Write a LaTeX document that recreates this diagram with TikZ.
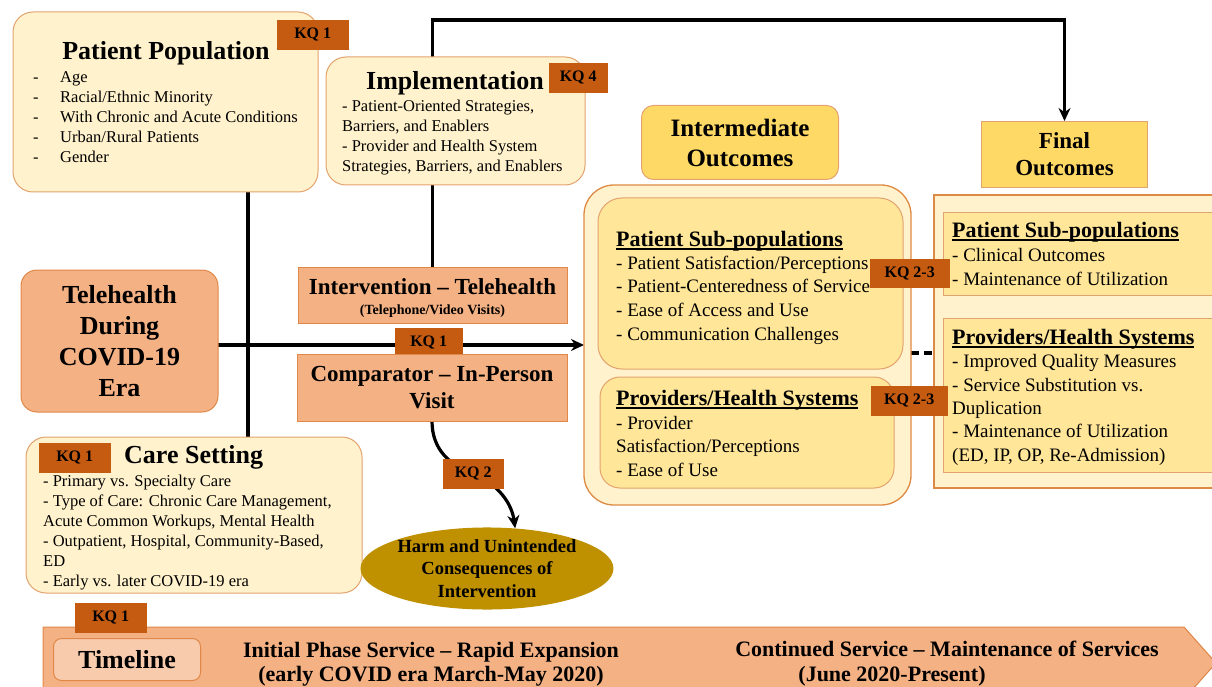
\documentclass[tikz,border=0pt]{standalone}
\usepackage{fontspec}
\setmainfont{Liberation Serif}
\usetikzlibrary{arrows.meta,shapes.geometric,backgrounds}
\newcommand{\subhead}[1]{\setbox0=\hbox{#1}\rlap{\rule[-3.5pt]{\wd0}{1.4pt}}\box0}
\newcommand{\dashitem}[1]{\makebox[27pt][l]{-}#1}

\begin{document}
\begin{tikzpicture}[
  x=1pt, y=-1pt,
  panel/.style={rectangle, rounded corners=20pt, draw=panelEdge, line width=1pt,
    fill=creamFill, anchor=north west, inner sep=0pt, outer sep=0pt},
  warmbox/.style={rectangle, draw=salmonEdge, line width=1pt, fill=salmonFill,
    anchor=north west, inner sep=0pt, outer sep=0pt, align=center},
  tag/.style={rectangle, fill=kqFill, draw=kqFill, anchor=north west, inner sep=0pt,
    font=\bfseries\fontsize{16}{16}\selectfont},
  head/.style={font=\bfseries\fontsize{26}{30}\selectfont, inner sep=0pt, anchor=base},
  subtitle/.style={font=\bfseries\fontsize{22}{26}\selectfont, inner sep=0pt, anchor=base west},
  body/.style={font=\fontsize{16.5}{20}\selectfont, inner sep=0pt, anchor=base west},
  outbody/.style={font=\fontsize{19}{23}\selectfont, inner sep=0pt, anchor=base west},
  phase/.style={font=\bfseries\fontsize{22}{26}\selectfont, inner sep=0pt, anchor=base},
  link/.style={line width=3.2pt},
  flow/.style={-{Stealth[length=13pt, width=12pt]}, line width=3.2pt},
]
\definecolor{creamFill}{HTML}{FFF2CC}
\definecolor{goldLight}{HTML}{FFE699}
\definecolor{goldFill}{HTML}{FFD966}
\definecolor{salmonFill}{HTML}{F4B183}
\definecolor{tlFill}{HTML}{F8CBAD}
\definecolor{panelEdge}{HTML}{E3A36E}
\definecolor{outerEdge}{HTML}{DD8A45}
\definecolor{salmonEdge}{HTML}{E0884A}
\definecolor{kqFill}{HTML}{C55A11}
\definecolor{harmFill}{HTML}{BF9000}

\useasboundingbox (0,0) rectangle (1212,687);

% Population, implementation and care setting
\node[panel, minimum width=305pt, minimum height=180pt] (popbox) at (13,12) {};
\node[head] (pophead) at (166,60) {Patient Population};
\node[tag, minimum width=71pt, minimum height=29pt] (kqpop) at (277,20) {KQ 1};
\foreach \t [count=\i] in {Age, Racial/Ethnic Minority, With Chronic and Acute Conditions,
    Urban/Rural Patients, Gender}
  \node[body] (popitem\i) at (33,63+20*\i) {\dashitem{\t}};

\node[panel, minimum width=259pt, minimum height=128pt] (implbox) at (326,57) {};
\node[head] (implhead) at (455,90) {Implementation};
\node[tag, minimum width=58pt, minimum height=29pt] (kqimpl) at (549,63) {KQ 4};
\foreach \t [count=\i] in {{- Patient-Oriented Strategies,}, {Barriers, and Enablers},
    {- Provider and Health System}, {Strategies, Barriers, and Enablers}}
  \node[body] (impitem\i) at (342,92+20*\i) {\t};

\node[panel, minimum width=336pt, minimum height=156pt] (carebox) at (26,437) {};
\node[tag, minimum width=71pt, minimum height=29pt] (kqcare) at (39,443) {KQ 1};
\node[head, anchor=base west] (carehead) at (124,463) {Care Setting};
\foreach \t [count=\i] in {{- Primary vs. Specialty Care}, {- Type of Care: Chronic Care Management,},
    {Acute Common Workups, Mental Health}, {- Outpatient, Hospital, Community-Based,},
    {ED}, {- Early vs. later COVID-19 era}}
  \node[body] (careitem\i) at (43,466+20*\i) {\t};

% Population, intervention and comparator
\node[warmbox, rounded corners=16pt, minimum width=197pt, minimum height=142pt,
  font=\bfseries\fontsize{26}{31}\selectfont] (tele) at (21,270)
  {Telehealth\\During\\COVID-19\\Era};
\node[warmbox, minimum width=269pt, minimum height=56pt] (interv) at (298,267) {};
\node[head, font=\bfseries\fontsize{23}{26}\selectfont] (intervhead) at (432.5,294)
  {Intervention -- Telehealth};
\node[head, font=\bfseries\fontsize{14}{16}\selectfont] (intervsub) at (432.5,314)
  {(Telephone/Video Visits)};
\node[tag, minimum width=67pt, minimum height=28pt] (kqmid) at (395,328) {KQ 1};
\node[warmbox, minimum width=270pt, minimum height=67pt,
  font=\bfseries\fontsize{23}{27}\selectfont] (comp) at (297,354)
  {Comparator -- In-Person\\Visit};

\node[ellipse, fill=harmFill, minimum width=252pt, minimum height=75pt, inner sep=0pt,
  align=center, font=\bfseries\fontsize{18.5}{22.5}\selectfont] (harm) at (487,568.5)
  {Harm and Unintended\\Consequences of\\Intervention};

% Intermediate outcomes
\node[rectangle, rounded corners=12pt, draw=panelEdge, line width=1pt, fill=goldFill,
  anchor=north west, minimum width=197pt, minimum height=74pt, align=center,
  font=\bfseries\fontsize{25}{30}\selectfont] (midhd) at (641,105) {Intermediate\\Outcomes};
\node[panel, rounded corners=30pt, draw=outerEdge, line width=1.3pt,
  minimum width=327pt, minimum height=320pt] (midouter) at (584,185) {};
\node[panel, rounded corners=24pt, fill=goldLight, minimum width=305pt, minimum height=171pt]
  (midpat) at (598,198) {};
\node[panel, rounded corners=20pt, fill=goldLight, minimum width=294pt, minimum height=111pt]
  (midprov) at (600,377) {};
\node[subtitle] (midpathead) at (616,246) {\subhead{Patient Sub-populations}};
\foreach \t [count=\i] in {{- Patient Satisfaction/Perceptions}, {- Patient-Centeredness of Service},
    {- Ease of Access and Use}, {- Communication Challenges}}
  \node[outbody] (midpatitem\i) at (616,245.5+23.7*\i) {\t};
\node[subtitle] (midprovhead) at (616,405) {\subhead{Providers/Health Systems}};
\foreach \t [count=\i] in {{- Provider}, {Satisfaction/Perceptions}, {- Ease of Use}}
  \node[outbody] (midprovitem\i) at (616,405.5+23.5*\i) {\t};

% Final outcomes
\node[rectangle, draw=panelEdge, line width=1pt, fill=goldFill, anchor=north west,
  minimum width=166pt, minimum height=66pt, align=center,
  font=\bfseries\fontsize{23}{27}\selectfont] (finalhd) at (981,121) {Final\\Outcomes};
\node[panel, sharp corners, draw=outerEdge, line width=1.3pt,
  minimum width=290pt, minimum height=293pt] (finouter) at (934,195) {};
\node[panel, sharp corners, fill=goldLight, minimum width=280pt, minimum height=83pt]
  (finpat) at (943,212) {};
\node[panel, sharp corners, fill=goldLight, minimum width=280pt, minimum height=154pt]
  (finprov) at (943,318) {};
\node[subtitle] (finpathead) at (952,237) {\subhead{Patient Sub-populations}};
\foreach \t [count=\i] in {{- Clinical Outcomes}, {- Maintenance of Utilization}}
  \node[outbody] (finpatitem\i) at (952,237+24*\i) {\t};
\node[subtitle] (finprovhead) at (952,344) {\subhead{Providers/Health Systems}};
\foreach \t [count=\i] in {{- Improved Quality Measures}, {- Service Substitution vs.},
    {Duplication}, {- Maintenance of Utilization}, {(ED, IP, OP, Re-Admission)}}
  \node[outbody] (finprovitem\i) at (952,344.5+23.3*\i) {\t};

% The two KQ 2-3 tags sit across both outcome columns
\node[tag, minimum width=79pt, minimum height=28pt] (kqpat) at (870,259) {KQ 2-3};
\node[tag, minimum width=76pt, minimum height=29pt] (kqprov) at (871,386) {KQ 2-3};

% Timeline along the bottom
\draw[draw=salmonEdge, fill=salmonFill, line width=1pt]
  (43,627) -- (1184,627) -- (1216,663) -- (1184,699) -- (43,699) -- cycle;
\node[rectangle, rounded corners=8pt, draw=salmonEdge, line width=1pt, fill=tlFill,
  anchor=north west, minimum width=147pt, minimum height=42pt, inner sep=0pt,
  font=\bfseries\fontsize{26}{30}\selectfont] (tlbox) at (53,638) {Timeline};
\node[tag, minimum width=71pt, minimum height=29pt] (kqtl) at (75,603) {KQ 1};
\node[phase] (earlyhd) at (431,657) {Initial Phase Service -- Rapid Expansion};
\node[phase] (earlydate) at (431,681) {(early COVID era March-May 2020)};
\node[phase] (laterhd) at (947,656) {Continued Service -- Maintenance of Services};
\node[phase] (laterdate) at (892,681) {(June 2020-Present)};

\node[tag, minimum width=60pt, minimum height=29pt] (kqtwo) at (443,459) {KQ 2};

% Connectors run underneath the boxes
\begin{scope}[on background layer]
  \coordinate (topbar) at (700,20);
  \coordinate (leftbus) at (248,345);
  \coordinate (dashrow) at (920,353);
  \draw[flow] (interv.north) |- (topbar) -| (finalhd.north);
  \draw[link] (leftbus |- popbox.south) -- (leftbus |- carebox.north);
  \draw[flow] (tele.east |- leftbus) -- (midouter.west |- leftbus);
  \draw[link, dash pattern=on 8pt off 5pt] (midouter.east |- dashrow) -- (finouter.west |- dashrow);
  \draw[flow] (comp.south) .. controls (432,450) and (450,465) .. (kqtwo.center)
    .. controls (500,485) and (512,505) .. (harm.55);
\end{scope}
\end{tikzpicture}
\end{document}
